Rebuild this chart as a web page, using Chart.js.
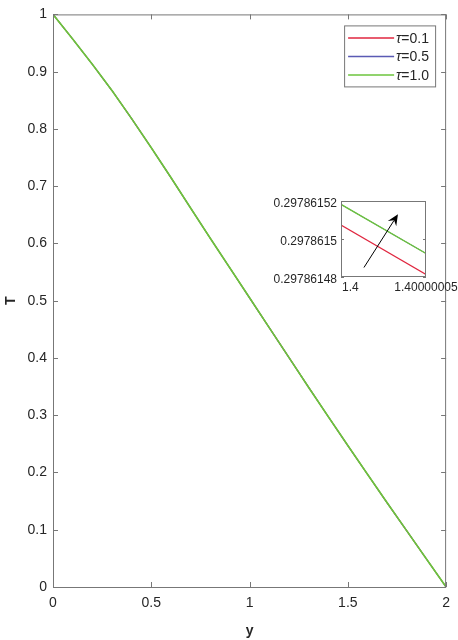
<!DOCTYPE html>
<html>
<head>
<meta charset="utf-8">
<script src="https://cdn.jsdelivr.net/npm/chart.js@4/dist/chart.umd.min.js"></script>
<style>
  body { margin: 0; background: #fff; }
  #wrap { position: relative; width: 458px; height: 640px; }
  #main { position: absolute; left: 0; top: 0; }
  #inset { position: absolute; left: 265px; top: 190px; }
</style>
</head>
<body>
<div id="wrap">
  <canvas id="main" width="458" height="640"></canvas>
  <canvas id="inset" width="193" height="105"></canvas>
</div>
<script>
// main plot data
const yPos = [0, 0.1, 0.2, 0.3, 0.4, 0.5, 0.6, 0.7, 0.8, 0.9, 1.0, 1.1, 1.2, 1.3, 1.4, 1.5, 1.6, 1.7, 1.8, 1.9, 2.0];
const tau01 = [1.000, 0.957, 0.913, 0.867, 0.818, 0.767, 0.715, 0.662, 0.609, 0.557, 0.505, 0.453, 0.401, 0.349, 0.2978615073, 0.247, 0.197, 0.147, 0.098, 0.049, 0];
const tau05 = [1.000, 0.957, 0.913, 0.867, 0.818, 0.767, 0.715, 0.662, 0.609, 0.557, 0.505, 0.453, 0.401, 0.349, 0.2978615182, 0.247, 0.197, 0.147, 0.098, 0.049, 0];
const tau10 = [1.000, 0.957, 0.913, 0.867, 0.818, 0.767, 0.715, 0.662, 0.609, 0.557, 0.505, 0.453, 0.401, 0.349, 0.2978615182, 0.247, 0.197, 0.147, 0.098, 0.049, 0];
const tauLabels = ['0.1', '0.5', '1.0'];
const tauColors = ['#e0263f', '#5a5ab4', '#6cc43c'];
const xTicks = [0, 0.5, 1, 1.5, 2];
const yTicks = [0, 0.1, 0.2, 0.3, 0.4, 0.5, 0.6, 0.7, 0.8, 0.9, 1];

// zoomed inset data
const insetX = [1.4, 1.40000005];
const insetTau01 = [0.2978615073, 0.2978614813];
const insetTau05 = [0.2978615182, 0.2978614924];
const insetTau10 = [0.2978615182, 0.2978614924];
const insetXTicks = [1.4, 1.40000005];
const insetXLabels = ['1.4', '1.40000005'];
const insetYTicks = [0.29786148, 0.2978615, 0.29786152];
const insetYLabels = ['0.29786148', '0.2978615', '0.29786152'];
const arrowFrom = [1.4000000135, 0.297861485];
const arrowTo = [1.4000000335, 0.297861513];

const FONT = '"Liberation Sans", Arial, sans-serif';
const AXIS = '#777777';
const TEXT = '#262626';

const pts = (xs, ys) => xs.map((x, i) => ({ x, y: ys[i] }));

function lineSet(label, data, color, order, width) {
  return { label, data, borderColor: color, backgroundColor: color, borderWidth: width,
    pointRadius: 0, showLine: true, tension: 0, order };
}

function drawTicks(ctx, area, xs, ys, len) {
  ctx.beginPath();
  xs.forEach(px => {
    ctx.moveTo(px, area.bottom); ctx.lineTo(px, area.bottom - len);
    ctx.moveTo(px, area.top); ctx.lineTo(px, area.top + len);
  });
  ys.forEach(py => {
    ctx.moveTo(area.left, py); ctx.lineTo(area.left + len, py);
    ctx.moveTo(area.right, py); ctx.lineTo(area.right - len, py);
  });
  ctx.stroke();
}

const mainBox = {
  id: 'mainBox',
  afterDraw(chart) {
    const { ctx, chartArea: a, scales } = chart;
    ctx.save();
    ctx.strokeStyle = AXIS;
    ctx.lineWidth = 1;
    ctx.strokeRect(a.left + 0.5, a.top + 0.5, a.right - a.left - 1, a.bottom - a.top);
    drawTicks(ctx, a,
      xTicks.map(v => Math.round(scales.x.getPixelForValue(v)) + 0.5),
      yTicks.map(v => Math.round(scales.y.getPixelForValue(v)) + 0.5), 5);

    // legend inside top-right corner
    const bx = a.right - 102, by = a.top + 11, bw = 91, bh = 61;
    ctx.fillStyle = '#fff';
    ctx.fillRect(bx, by, bw, bh);
    ctx.strokeStyle = AXIS;
    ctx.strokeRect(bx + 0.5, by + 0.5, bw, bh);
    chart.data.datasets.forEach((ds, i) => {
      const ry = by + 12.5 + i * 18.5;
      ctx.strokeStyle = ds.borderColor;
      ctx.lineWidth = 1.5;
      ctx.beginPath();
      ctx.moveTo(bx + 4, ry); ctx.lineTo(bx + 50, ry);
      ctx.stroke();
      ctx.fillStyle = TEXT;
      ctx.textBaseline = 'middle';
      ctx.textAlign = 'left';
      ctx.font = 'italic 14px ' + FONT;
      ctx.fillText('\u03c4', bx + 52, ry + 1);
      const w = ctx.measureText('\u03c4').width;
      ctx.font = '14px ' + FONT;
      ctx.fillText('=' + ds.label, bx + 52 + w, ry + 1);
    });
    ctx.restore();
  }
};

new Chart(document.getElementById('main'), {
  type: 'scatter',
  data: {
    datasets: [
      lineSet(tauLabels[0], pts(yPos, tau01), tauColors[0], 2, 1.1),
      lineSet(tauLabels[1], pts(yPos, tau05), tauColors[1], 1, 1.1),
      lineSet(tauLabels[2], pts(yPos, tau10), tauColors[2], 0, 1.7)
    ]
  },
  options: {
    responsive: false,
    animation: false,
    events: [],
    layout: { padding: { top: 12, right: 10, left: 0, bottom: 0 } },
    plugins: { legend: { display: false }, tooltip: { enabled: false } },
    scales: {
      x: {
        type: 'linear', min: 0, max: 2,
        afterBuildTicks: s => { s.ticks = xTicks.map(v => ({ value: v })); },
        afterFit: s => { s.height = 53; },
        grid: { display: false, drawTicks: false },
        border: { display: false },
        ticks: { padding: 8, color: TEXT, font: { family: FONT, size: 14 }, maxRotation: 0,
          callback: v => String(v) },
        title: { display: true, text: 'y', color: TEXT, padding: { top: 1, bottom: 0 },
          font: { family: FONT, size: 14, weight: 'bold' } }
      },
      y: {
        type: 'linear', min: 0, max: 1,
        afterBuildTicks: s => { s.ticks = yTicks.map(v => ({ value: v })); },
        afterFit: s => { s.width = 53; },
        grid: { display: false, drawTicks: false },
        border: { display: false },
        ticks: { padding: 6, color: TEXT, font: { family: FONT, size: 14 },
          callback: v => String(v) },
        title: { display: true, text: 'T', color: TEXT, padding: { top: 3, bottom: 0 },
          font: { family: FONT, size: 14, weight: 'bold' } }
      }
    }
  },
  plugins: [mainBox]
});

const insetBox = {
  id: 'insetBox',
  beforeDatasetsDraw(chart) {
    const { ctx, chartArea: a } = chart;
    ctx.save();
    ctx.fillStyle = '#fff';
    ctx.fillRect(a.left, a.top, a.right - a.left, a.bottom - a.top);
    ctx.restore();
  },
  afterDraw(chart) {
    const { ctx, chartArea: a, scales } = chart;
    const sx = scales.x, sy = scales.y;
    ctx.save();
    ctx.strokeStyle = AXIS;
    ctx.lineWidth = 1;
    ctx.strokeRect(a.left + 0.5, a.top + 0.5, a.right - a.left - 1, a.bottom - a.top - 1);
    drawTicks(ctx, a, [], insetYTicks.map(v => Math.round(sy.getPixelForValue(v)) + 0.5), 3);

    ctx.fillStyle = TEXT;
    ctx.font = '12px ' + FONT;
    ctx.textBaseline = 'middle';
    ctx.textAlign = 'right';
    insetYTicks.forEach((v, i) => {
      ctx.fillText(insetYLabels[i], a.left - 4, sy.getPixelForValue(v) + 2.5);
    });
    ctx.textBaseline = 'top';
    insetXTicks.forEach((v, i) => {
      ctx.textAlign = i === 0 ? 'left' : 'center';
      ctx.fillText(insetXLabels[i], sx.getPixelForValue(v) + (i === 0 ? 1 : 0), a.bottom + 5);
    });

    // arrow
    const x0 = sx.getPixelForValue(arrowFrom[0]), y0 = sy.getPixelForValue(arrowFrom[1]);
    const x1 = sx.getPixelForValue(arrowTo[0]), y1 = sy.getPixelForValue(arrowTo[1]);
    const ang = Math.atan2(y1 - y0, x1 - x0);
    const hl = 11, hw = 5;
    const bxp = x1 - hl * Math.cos(ang), byp = y1 - hl * Math.sin(ang);
    const nx = x1 - hl * 0.65 * Math.cos(ang), ny = y1 - hl * 0.65 * Math.sin(ang);
    ctx.strokeStyle = '#000';
    ctx.fillStyle = '#000';
    ctx.lineWidth = 1;
    ctx.beginPath();
    ctx.moveTo(x0, y0); ctx.lineTo(nx, ny);
    ctx.stroke();
    ctx.beginPath();
    ctx.moveTo(x1, y1);
    ctx.lineTo(bxp + hw * Math.sin(ang), byp - hw * Math.cos(ang));
    ctx.lineTo(nx, ny);
    ctx.lineTo(bxp - hw * Math.sin(ang), byp + hw * Math.cos(ang));
    ctx.closePath();
    ctx.fill();
    ctx.restore();
  }
};

new Chart(document.getElementById('inset'), {
  type: 'scatter',
  data: {
    datasets: [
      lineSet(tauLabels[0], pts(insetX, insetTau01), tauColors[0], 2, 1.2),
      lineSet(tauLabels[1], pts(insetX, insetTau05), tauColors[1], 1, 1.0),
      lineSet(tauLabels[2], pts(insetX, insetTau10), tauColors[2], 0, 1.4)
    ]
  },
  options: {
    responsive: false,
    animation: false,
    events: [],
    layout: { padding: { left: 76, right: 32, top: 11, bottom: 18 } },
    plugins: { legend: { display: false }, tooltip: { enabled: false } },
    scales: {
      x: { type: 'linear', min: insetX[0], max: insetX[1], display: false },
      y: { type: 'linear', min: insetYTicks[0], max: insetYTicks[2], display: false }
    }
  },
  plugins: [insetBox]
});
</script>
</body>
</html>
